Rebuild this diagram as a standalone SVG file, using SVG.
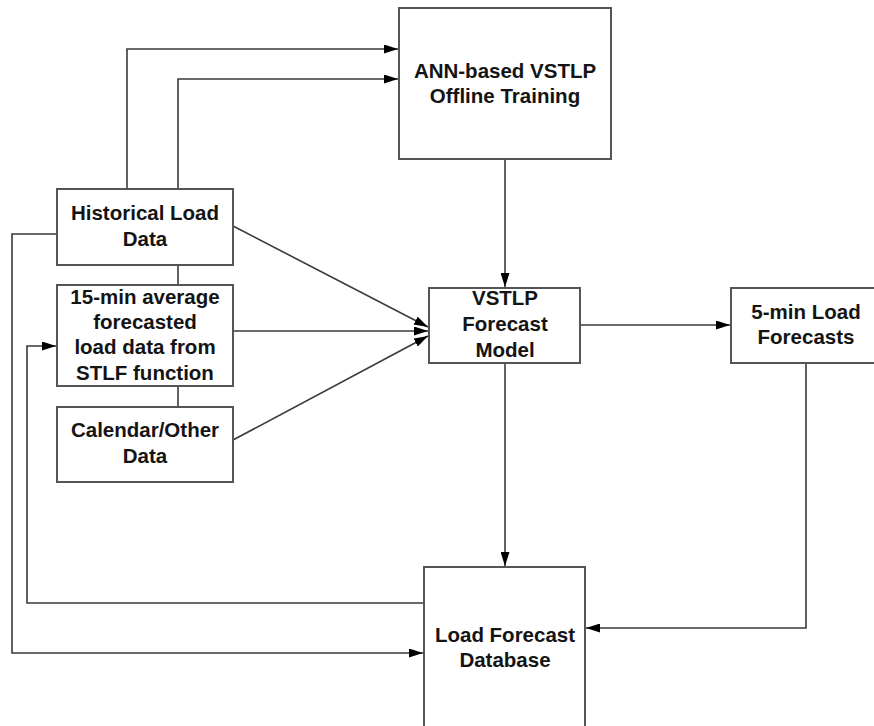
<svg xmlns="http://www.w3.org/2000/svg" width="874" height="726" viewBox="0 0 874 726">
  <style>
    .box { fill: #ffffff; stroke: #555555; stroke-width: 2; }
    .lbl { font-family: "Liberation Sans", Arial, sans-serif; font-weight: bold; font-size: 20.5px; fill: #141414; text-anchor: middle; }
    .wire { fill: none; stroke: #3a3a3a; stroke-width: 1.6; }
  </style>
  <defs>
    <marker id="arrow" viewBox="0 0 14 9" refX="14" refY="4.5" markerWidth="14" markerHeight="9" markerUnits="userSpaceOnUse" orient="auto">
      <path d="M0,0 L14,4.5 L0,9 Z" fill="#000000"/>
    </marker>
  </defs>
  <rect width="874" height="726" fill="#ffffff"/>

  <g id="connectors">
    <!-- Historical Load Data to offline training -->
    <path class="wire" d="M127,189 V49 H398" marker-end="url(#arrow)"/>
    <path class="wire" d="M178,189 V79 H398" marker-end="url(#arrow)"/>
    <!-- links between the input blocks -->
    <path class="wire" d="M178,265 V285"/>
    <path class="wire" d="M178,386 V407"/>
    <!-- inputs into forecast model -->
    <path class="wire" d="M233,226 L428,327" marker-end="url(#arrow)"/>
    <path class="wire" d="M233,331 H428" marker-end="url(#arrow)"/>
    <path class="wire" d="M233,440 L428,336" marker-end="url(#arrow)"/>
    <!-- training to model -->
    <path class="wire" d="M505,159 V287" marker-end="url(#arrow)"/>
    <!-- model to 5-min forecasts -->
    <path class="wire" d="M580,325 H730" marker-end="url(#arrow)"/>
    <!-- model to database -->
    <path class="wire" d="M505,363 V566" marker-end="url(#arrow)"/>
    <!-- 5-min forecasts to database -->
    <path class="wire" d="M806,363 V628 H586" marker-end="url(#arrow)"/>
    <!-- database feedback to 15-min input -->
    <path class="wire" d="M424,603 H27 V346 H56" marker-end="url(#arrow)"/>
    <!-- historical data to database -->
    <path class="wire" d="M57,234 H12 V653 H423" marker-end="url(#arrow)"/>
  </g>

  <g id="ann-training">
    <rect class="box" x="399" y="8" width="212" height="151"/>
    <text class="lbl" x="505" y="78">ANN-based VSTLP</text>
    <text class="lbl" x="505" y="103">Offline Training</text>
  </g>

  <g id="historical-load">
    <rect class="box" x="57" y="189" width="176" height="76"/>
    <text class="lbl" x="145" y="220">Historical Load</text>
    <text class="lbl" x="145" y="246">Data</text>
  </g>

  <g id="stlf-average">
    <rect class="box" x="57" y="285" width="176" height="101"/>
    <text class="lbl" x="145" y="304">15-min average</text>
    <text class="lbl" x="145" y="329">forecasted</text>
    <text class="lbl" x="145" y="354">load data from</text>
    <text class="lbl" x="145" y="380">STLF function</text>
  </g>

  <g id="calendar">
    <rect class="box" x="57" y="407" width="176" height="75"/>
    <text class="lbl" x="145" y="437">Calendar/Other</text>
    <text class="lbl" x="145" y="463">Data</text>
  </g>

  <g id="vstlp-model">
    <rect class="box" x="429" y="288" width="151" height="75"/>
    <text class="lbl" x="505" y="305">VSTLP</text>
    <text class="lbl" x="505" y="331">Forecast</text>
    <text class="lbl" x="505" y="357">Model</text>
  </g>

  <g id="five-min-forecasts">
    <rect class="box" x="731" y="288" width="150" height="75"/>
    <text class="lbl" x="806" y="319">5-min Load</text>
    <text class="lbl" x="806" y="344">Forecasts</text>
  </g>

  <g id="forecast-database">
    <rect class="box" x="424" y="567" width="161" height="170"/>
    <text class="lbl" x="505" y="642">Load Forecast</text>
    <text class="lbl" x="505" y="667">Database</text>
  </g>
</svg>
